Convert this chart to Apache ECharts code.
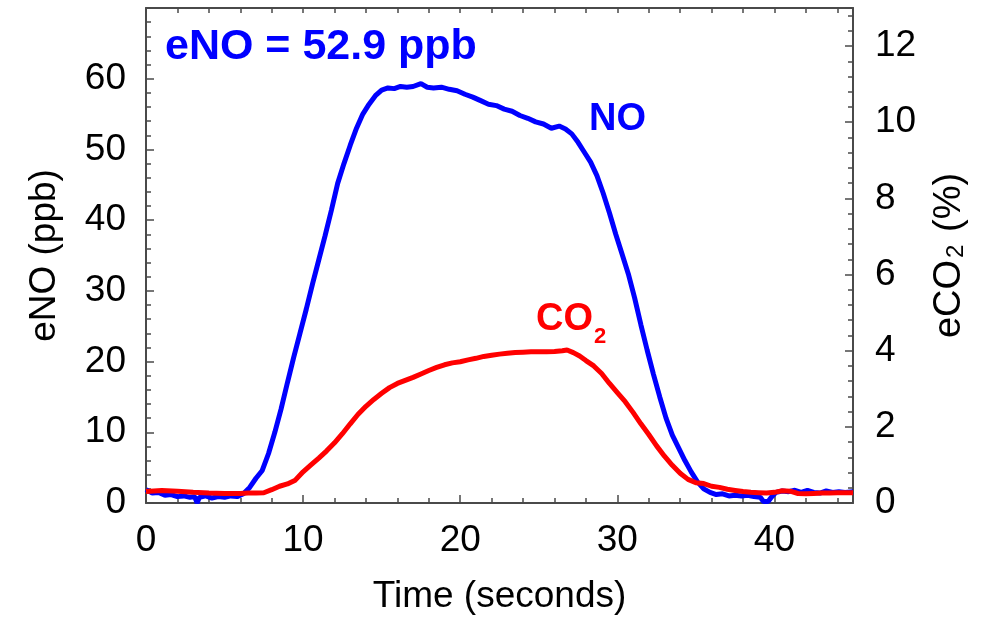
<!DOCTYPE html>
<html>
<head>
<meta charset="utf-8">
<script src="https://cdn.jsdelivr.net/npm/echarts@6/dist/echarts.min.js"></script>
<style>
  html, body { margin: 0; padding: 0; background: #fff; }
  #chart { width: 987px; height: 618px; }
</style>
</head>
<body>
<div id="chart"></div>
<script>
// NO trace (ppb)
var noTime = [0, 0.4, 0.8, 1.2, 1.6, 2.0, 2.4, 2.8, 3.1, 3.25, 3.4, 3.8, 4.2, 4.6, 5.0, 5.4, 5.8, 6.2, 6.6, 7.0,
  7.4, 7.8, 8.2, 8.6, 9.0, 9.4, 9.8, 10.2, 10.6, 11.0, 11.4, 11.8, 12.2, 12.6, 13.0, 13.4, 13.8, 14.2, 14.6, 15.0,
  15.4, 15.8, 16.2, 16.6, 17.0, 17.5, 17.9, 18.3, 18.8, 19.3, 19.8, 20.3, 20.8, 21.3, 21.8, 22.3, 22.8, 23.3, 23.8, 24.3,
  24.8, 25.3, 25.8, 26.3, 26.7, 27.1, 27.5, 27.9, 28.3, 28.7, 29.1, 29.5, 29.9, 30.3, 30.7, 31.1, 31.5, 31.9, 32.3, 32.7,
  33.1, 33.5, 33.9, 34.3, 34.7, 35.1, 35.5, 35.9, 36.3, 36.7, 37.1, 37.5, 37.9, 38.3, 38.7, 39.1, 39.3, 39.6, 39.8, 40.1,
  40.5, 40.9, 41.3, 41.7, 42.1, 42.5, 42.9, 43.3, 43.7, 44.1, 44.5, 45.0];
var noValues = [1.9, 1.4, 1.5, 1.1, 1.2, 0.9, 1.0, 0.8, 0.9, 0.0, 0.8, 1.0, 0.7, 0.9, 0.8, 1.0, 0.9, 1.3, 2.2, 3.5,
  4.6, 7.0, 10.0, 13.3, 17.0, 20.6, 24.0, 27.4, 31.0, 34.4, 37.8, 41.4, 45.2, 48.0, 50.6, 53.0, 55.0, 56.4, 57.6, 58.4,
  58.7, 58.6, 58.9, 58.8, 58.9, 59.3, 58.8, 58.7, 58.8, 58.5, 58.3, 57.8, 57.4, 56.9, 56.4, 56.2, 55.7, 55.4, 54.8, 54.4,
  53.9, 53.6, 53.0, 53.3, 52.9, 52.2, 51.0, 49.6, 48.2, 46.3, 43.8, 41.0, 38.0, 35.2, 32.4, 29.0, 25.2, 21.6, 18.2, 15.0,
  12.0, 9.6, 7.8, 6.0, 4.4, 3.0, 2.0, 1.5, 1.2, 1.3, 1.0, 1.1, 1.0, 1.1, 0.9, 0.8, 0.2, 0.2, 0.8, 1.5,
  1.7, 1.6, 1.8, 1.5, 1.8, 1.5, 1.4, 1.7, 1.5, 1.6, 1.5, 1.6];

// CO2 trace (%), right axis
var co2Time = [0, 1, 2, 3, 4, 5, 6, 6.5, 7, 7.5, 8, 8.5, 9, 9.5, 10, 10.5, 11, 11.5, 12, 12.5,
  13, 13.5, 14, 14.5, 15, 15.5, 16, 16.5, 17, 17.5, 18, 18.5, 19, 19.5, 20, 20.5, 21, 21.5, 22, 22.5,
  23, 23.5, 24, 24.5, 25, 25.5, 26, 26.5, 26.8, 27.2, 27.6, 28, 28.5, 29, 29.5, 30, 30.5, 31, 31.5, 32,
  32.5, 33, 33.5, 34, 34.5, 35, 35.5, 36, 36.5, 37, 37.5, 38, 38.5, 39, 39.5, 40, 40.5, 41, 41.5, 42,
  42.5, 43, 43.5, 44, 44.5, 45];
var co2Values = [0.30, 0.33, 0.31, 0.28, 0.26, 0.25, 0.25, 0.26, 0.26, 0.27, 0.35, 0.44, 0.50, 0.60, 0.82, 1.00, 1.18, 1.37, 1.58, 1.82,
  2.08, 2.33, 2.54, 2.72, 2.88, 3.03, 3.14, 3.22, 3.30, 3.39, 3.48, 3.56, 3.63, 3.68, 3.71, 3.76, 3.80, 3.85, 3.88, 3.91,
  3.93, 3.95, 3.96, 3.97, 3.97, 3.97, 3.98, 4.00, 4.02, 3.95, 3.86, 3.74, 3.60, 3.40, 3.14, 2.90, 2.66, 2.38, 2.08, 1.80,
  1.50, 1.23, 0.99, 0.78, 0.62, 0.53, 0.51, 0.44, 0.41, 0.36, 0.33, 0.30, 0.28, 0.27, 0.26, 0.28, 0.32, 0.31, 0.25, 0.24,
  0.25, 0.26, 0.26, 0.27, 0.27, 0.27];

var xTicks = [0, 10, 20, 30, 40];
var eNoText = 'eNO = 52.9 ppb';

var FONT = 'Liberation Sans, Arial, Helvetica, sans-serif';
var AXIS_COLOR = '#4a4a4a';

function pairs(xs, ys) {
  var out = [];
  for (var i = 0; i < xs.length; i++) {
    out.push([xs[i], ys[i]]);
  }
  return out;
}

// axis that only draws short inside ticks (the minor ones)
function tickOnlyAxis(position, max, interval) {
  return {
    type: 'value', position: position, min: 0, max: max, interval: interval,
    axisLine: { show: false, onZero: false },
    axisTick: { show: true, inside: true, length: 5, lineStyle: { color: AXIS_COLOR, width: 1.5 } },
    axisLabel: { show: false },
    splitLine: { show: false }
  };
}

var myChart = echarts.init(document.getElementById('chart'), null, { renderer: 'canvas' });

var nameStyle = { color: '#000', fontFamily: FONT, fontSize: 37 };
var frameLine = { show: true, onZero: false, lineStyle: { color: AXIS_COLOR, width: 2 } };

var option = {
  backgroundColor: '#ffffff',
  animation: false,
  grid: {
    left: 146, right: 134, top: 8, bottom: 115,
    containLabel: false, outerBoundsMode: 'none'
  },
  xAxis: [
    {
      type: 'value', position: 'bottom', min: 0, max: 45, interval: 10,
      axisLine: frameLine,
      axisTick: { show: true, inside: true, length: 8, lineStyle: { color: AXIS_COLOR, width: 1.5 } },
      axisLabel: {
        margin: 19, color: '#000', fontFamily: FONT, fontSize: 37,
        formatter: function (v) { return xTicks.indexOf(v) > -1 ? String(v) : ''; }
      },
      splitLine: { show: false },
      name: 'Time (seconds)', nameLocation: 'middle', nameGap: 75, nameTextStyle: nameStyle,
      nameMoveOverlap: false
    },
    tickOnlyAxis('bottom', 45, 2),
    {
      type: 'value', position: 'top', min: 0, max: 45, interval: 2,
      axisLine: frameLine,
      axisTick: { show: true, inside: true, length: 5, lineStyle: { color: AXIS_COLOR, width: 1.5 } },
      axisLabel: { show: false },
      splitLine: { show: false }
    }
  ],
  yAxis: [
    {
      type: 'value', position: 'left', min: 0, max: 70, interval: 10,
      axisLine: frameLine,
      axisTick: { show: true, inside: true, length: 8, lineStyle: { color: AXIS_COLOR, width: 1.5 } },
      axisLabel: { margin: 20, color: '#000', fontFamily: FONT, fontSize: 37, showMaxLabel: false },
      splitLine: { show: false },
      name: 'eNO (ppb)', nameLocation: 'middle', nameGap: 83, nameTextStyle: nameStyle,
      nameMoveOverlap: false
    },
    {
      type: 'value', position: 'right', min: 0, max: 13, interval: 2,
      axisLine: frameLine,
      axisTick: { show: true, inside: true, length: 8, lineStyle: { color: AXIS_COLOR, width: 1.5 } },
      axisLabel: {
        margin: 22, color: '#000', fontFamily: FONT, fontSize: 37,
        formatter: function (v) { return v % 2 === 0 ? String(v) : ''; }
      },
      splitLine: { show: false },
      name: '{m|eCO}{s|2}{m| (%)}', nameLocation: 'middle', nameGap: 78,
      nameMoveOverlap: false,
      nameTextStyle: {
        color: '#000', fontFamily: FONT, fontSize: 38,
        rich: {
          m: { color: '#000', fontFamily: FONT, fontSize: 38 },
          s: { color: '#000', fontFamily: FONT, fontSize: 24, padding: [13, 2, 0, 2] }
        }
      }
    },
    tickOnlyAxis('left', 70, 2),
    tickOnlyAxis('right', 13, 0.4)
  ],
  graphic: [
    {
      type: 'text', x: 165, y: 47, z: 10,
      style: { text: eNoText, fill: '#0000ff', font: 'bold 43px ' + FONT, verticalAlign: 'middle' }
    },
    {
      type: 'text', x: 589, y: 120, z: 10,
      style: { text: 'NO', fill: '#0000ff', font: 'bold 38px ' + FONT, verticalAlign: 'middle' }
    },
    {
      type: 'text', x: 536, y: 320, z: 10,
      style: {
        text: '{m|CO}{s|2}', verticalAlign: 'middle',
        rich: {
          m: { fill: '#ff0000', font: 'bold 38px ' + FONT },
          s: { fill: '#ff0000', font: 'bold 22px ' + FONT, padding: [33, 0, 0, 1] }
        }
      }
    }
  ],
  series: [
    {
      name: 'NO', type: 'line', xAxisIndex: 0, yAxisIndex: 0,
      data: pairs(noTime, noValues),
      showSymbol: false, symbol: 'none',
      lineStyle: { color: '#0000ff', width: 5 },
      itemStyle: { color: '#0000ff' }
    },
    {
      name: 'CO2', type: 'line', xAxisIndex: 0, yAxisIndex: 1,
      data: pairs(co2Time, co2Values),
      showSymbol: false, symbol: 'none',
      lineStyle: { color: '#ff0000', width: 5 },
      itemStyle: { color: '#ff0000' }
    }
  ]
};

if (option && typeof option === 'object') {
  myChart.setOption(option);
}
</script>
</body>
</html>
